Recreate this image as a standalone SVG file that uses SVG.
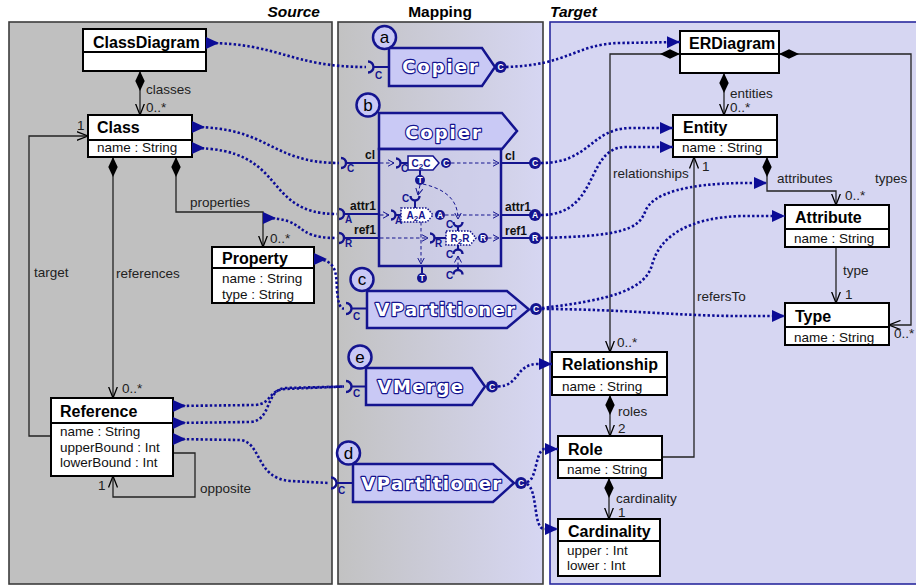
<svg xmlns="http://www.w3.org/2000/svg" width="916" height="585" viewBox="0 0 916 585">
<defs>
<linearGradient id="mapGrad" x1="0" y1="0" x2="1" y2="0">
<stop offset="0" stop-color="#c2c2c2"/><stop offset="1" stop-color="#d6d6f2"/>
</linearGradient>
<marker id="mapS" viewBox="0 0 13 12" refX="0" refY="6" markerWidth="13" markerHeight="12" markerUnits="userSpaceOnUse" orient="auto"><path d="M0,0 L13,6 L0,12 Z" fill="#0c0c96"/></marker>
<marker id="mapE" viewBox="0 0 13 12" refX="13" refY="6" markerWidth="13" markerHeight="12" markerUnits="userSpaceOnUse" orient="auto"><path d="M0,0 L13,6 L0,12 Z" fill="#0c0c96"/></marker>
<marker id="dia" viewBox="0 0 20 10" refX="0" refY="5" markerWidth="20" markerHeight="10" markerUnits="userSpaceOnUse" orient="auto"><path d="M0,5 L10,0.3 L20,5 L10,9.7 Z" fill="#000"/></marker>
<marker id="open" viewBox="0 0 12 10" refX="11.5" refY="5" markerWidth="12" markerHeight="10" markerUnits="userSpaceOnUse" orient="auto"><path d="M0,0.5 L11.5,5 L0,9.5" fill="none" stroke="#000" stroke-width="1.3"/></marker>
<marker id="dOpen" viewBox="0 0 7 8" refX="6.5" refY="4" markerWidth="7" markerHeight="8" markerUnits="userSpaceOnUse" orient="auto"><path d="M0,0.5 L6.5,4 L0,7.5" fill="none" stroke="#14148f" stroke-width="1"/></marker>
<style>
.uml{fill:#fff;stroke:#000;stroke-width:2}
.cn{font-family:"Liberation Sans",Arial,sans-serif;font-weight:bold;font-size:16px;fill:#000}
.at{font-family:"Liberation Sans",Arial,sans-serif;font-size:13.5px;fill:#111}
.lbl{font-family:"Liberation Sans",Arial,sans-serif;font-size:13.5px;fill:#222}
.assoc{fill:none;stroke:#222;stroke-width:1.3}
.map{fill:none;stroke:#0c0c96;stroke-width:2.6;stroke-dasharray:2.4 2.2}
.cbox{fill:#c9c9f5;stroke:#14148f;stroke-width:2.5;stroke-linejoin:miter}
.badge{fill:#c9c9f5;stroke:#14148f;stroke-width:2.5}
.bl{font-family:"Liberation Sans",Arial,sans-serif;font-size:17px;fill:#000;text-anchor:middle}
.ct{font-family:"DejaVu Sans",sans-serif;font-weight:bold;font-size:18px;fill:#fff;stroke:#14148f;stroke-width:2.4;paint-order:stroke;stroke-linejoin:round;text-anchor:middle}
.wire{fill:none;stroke:#14148f;stroke-width:2}
.sock{fill:none;stroke:#14148f;stroke-width:2.4}
.ball{fill:#14148f}
.bt{font-family:"Liberation Sans",Arial,sans-serif;font-weight:bold;font-size:8.5px;fill:#fff;text-anchor:middle}
.sub{font-family:"Liberation Sans",Arial,sans-serif;font-weight:bold;font-size:10px;fill:#14148f}
.port{font-family:"Liberation Sans",Arial,sans-serif;font-weight:bold;font-size:12px;fill:#111}
.dsh{fill:none;stroke:#14148f;stroke-width:1;stroke-dasharray:3.5 2.5}
.inner{fill:#fff;stroke:#14148f;stroke-width:1.5}
.innerDot{fill:#fff;stroke:#14148f;stroke-width:1.5;stroke-dasharray:1.6 1.4}
.it{font-family:"Liberation Sans",Arial,sans-serif;font-weight:bold;font-size:10px;fill:#14148f;text-anchor:middle}
.panelT{font-family:"Liberation Sans",Arial,sans-serif;font-weight:bold;font-size:15.5px;fill:#000}
</style>
</defs>

<!-- swimlane panels -->
<g id="panels">
<rect x="9" y="22" width="323" height="562" fill="#c0c0c0" stroke="#3c3c3c" stroke-width="1.6"/>
<rect x="338" y="22" width="205" height="562" fill="url(#mapGrad)" stroke="#3c3c3c" stroke-width="1.6"/>
<rect x="550" y="22" width="372" height="562" fill="#d6d6f2" stroke="#2a2a9e" stroke-width="1.6"/>
<text class="panelT" x="320" y="17" text-anchor="end" font-style="italic">Source</text>
<text class="panelT" x="440" y="17" text-anchor="middle">Mapping</text>
<text class="panelT" x="550" y="17" font-style="italic">Target</text>
</g>

<!-- associations between classes -->
<g id="associations">
<path class="assoc" marker-start="url(#dia)" marker-end="url(#open)" d="M140,71 L140,115"/>
<path class="assoc" marker-start="url(#dia)" marker-end="url(#open)" d="M113,157 L113,398"/>
<path class="assoc" marker-start="url(#dia)" marker-end="url(#open)" d="M176,157 L176,212 L263,212 L263,247"/>
<path class="assoc" marker-end="url(#open)" d="M51,436 L29,436 L29,136 L88,136"/>
<path class="assoc" marker-end="url(#open)" d="M173,453 L195,453 L195,497 L113,497 L113,476"/>
<path class="assoc" marker-start="url(#dia)" marker-end="url(#open)" d="M724,73 L724,115"/>
<path class="assoc" marker-start="url(#dia)" marker-end="url(#open)" d="M680,54 L610,54 L610,352"/>
<path class="assoc" marker-start="url(#dia)" marker-end="url(#open)" d="M779,54 L911,54 L911,325 L889,325"/>
<path class="assoc" marker-start="url(#dia)" marker-end="url(#open)" d="M767,157 L767,191 L836,191 L836,205"/>
<path class="assoc" marker-end="url(#open)" d="M836,247 L836,303"/>
<path class="assoc" marker-start="url(#dia)" marker-end="url(#open)" d="M610,395 L610,436"/>
<path class="assoc" marker-end="url(#open)" d="M662,457 L694,457 L694,157"/>
<path class="assoc" marker-start="url(#dia)" marker-end="url(#open)" d="M609,478 L609,519"/>
<text class="lbl" x="146" y="94">classes</text>
<text class="lbl" x="146" y="112">0..*</text>
<text class="lbl" x="77" y="130">1</text>
<text class="lbl" x="190" y="207">properties</text>
<text class="lbl" x="270" y="243">0..*</text>
<text class="lbl" x="34" y="277">target</text>
<text class="lbl" x="116" y="278">references</text>
<text class="lbl" x="122" y="393">0..*</text>
<text class="lbl" x="98" y="490">1</text>
<text class="lbl" x="200" y="493">opposite</text>
<text class="lbl" x="730" y="98">entities</text>
<text class="lbl" x="730" y="112">0..*</text>
<text class="lbl" x="613" y="178">relationships</text>
<text class="lbl" x="702" y="171">1</text>
<text class="lbl" x="777" y="183">attributes</text>
<text class="lbl" x="875" y="183">types</text>
<text class="lbl" x="845" y="200">0..*</text>
<text class="lbl" x="843" y="275">type</text>
<text class="lbl" x="845" y="299">1</text>
<text class="lbl" x="697" y="301">refersTo</text>
<text class="lbl" x="894" y="338">0..*</text>
<text class="lbl" x="617" y="347">0..*</text>
<text class="lbl" x="618" y="416">roles</text>
<text class="lbl" x="618" y="433">2</text>
<text class="lbl" x="616" y="503">cardinality</text>
<text class="lbl" x="618" y="517">1</text>
</g>

<!-- source metamodel -->
<g id="ClassDiagram">
<rect class="uml" x="83" y="29" width="123" height="42"/><line class="uml" x1="83" y1="52" x2="206" y2="52"/>
<text class="cn" x="93" y="47.5">ClassDiagram</text>
</g>
<g id="Class">
<rect class="uml" x="88" y="115" width="104" height="42"/><line class="uml" x1="88" y1="140" x2="192" y2="140"/>
<text class="cn" x="97" y="133">Class</text>
<text class="at" x="97" y="152">name : String</text>
</g>
<g id="Property">
<rect class="uml" x="212" y="247" width="102" height="56"/><line class="uml" x1="212" y1="268" x2="314" y2="268"/>
<text class="cn" x="222" y="264">Property</text>
<text class="at" x="222" y="283">name : String</text>
<text class="at" x="222" y="299">type : String</text>
</g>
<g id="Reference">
<rect class="uml" x="51" y="398" width="122" height="78"/><line class="uml" x1="51" y1="423" x2="173" y2="423"/>
<text class="cn" x="60" y="417">Reference</text>
<text class="at" x="60" y="436">name : String</text>
<text class="at" x="60" y="452">upperBound : Int</text>
<text class="at" x="60" y="467">lowerBound : Int</text>
</g>

<!-- target metamodel -->
<g id="ERDiagram">
<rect class="uml" x="680" y="31" width="99" height="42"/><line class="uml" x1="680" y1="54" x2="779" y2="54"/>
<text class="cn" x="689" y="49">ERDiagram</text>
</g>
<g id="Entity">
<rect class="uml" x="673" y="115" width="104" height="42"/><line class="uml" x1="673" y1="140" x2="777" y2="140"/>
<text class="cn" x="683" y="133">Entity</text>
<text class="at" x="682" y="152">name : String</text>
</g>
<g id="Attribute">
<rect class="uml" x="785" y="205" width="104" height="42"/><line class="uml" x1="785" y1="229" x2="889" y2="229"/>
<text class="cn" x="795" y="223">Attribute</text>
<text class="at" x="794" y="243">name : String</text>
</g>
<g id="Type">
<rect class="uml" x="785" y="303" width="104" height="42"/><line class="uml" x1="785" y1="327" x2="889" y2="327"/>
<text class="cn" x="795" y="322">Type</text>
<text class="at" x="794" y="342">name : String</text>
</g>
<g id="Relationship">
<rect class="uml" x="552" y="352" width="115" height="43"/><line class="uml" x1="552" y1="377" x2="667" y2="377"/>
<text class="cn" x="562" y="370">Relationship</text>
<text class="at" x="562" y="391">name : String</text>
</g>
<g id="Role">
<rect class="uml" x="558" y="436" width="104" height="42"/><line class="uml" x1="558" y1="460" x2="662" y2="460"/>
<text class="cn" x="568" y="455">Role</text>
<text class="at" x="567" y="474">name : String</text>
</g>
<g id="Cardinality">
<rect class="uml" x="558" y="519" width="102" height="57"/><line class="uml" x1="558" y1="541" x2="660" y2="541"/>
<text class="cn" x="568" y="537">Cardinality</text>
<text class="at" x="567" y="555">upper : Int</text>
<text class="at" x="567" y="570">lower : Int</text>
</g>

<!-- transformation components -->
<g id="comp-a">
<path class="cbox" d="M389,48 L482,48 L495,67 L482,86 L389,86 Z"/>
<text class="ct" x="441" y="73" letter-spacing="2">Copier</text>
<circle class="badge" cx="384.5" cy="37.5" r="11.5"/><text class="bl" x="384.5" y="43">a</text>
<path class="sock" d="M368,61.5 A5.5,5.5 0 0 1 368,72.5"/>
<line class="wire" x1="373.5" y1="67" x2="389" y2="67"/>
<text class="sub" x="375" y="79">C</text>
<circle class="ball" cx="500.5" cy="67" r="6"/><text class="bt" x="500.5" y="70">C</text>
</g>

<g id="comp-b">
<path class="cbox" d="M379,113 L502,113 L517,131 L502,149 L379,149 Z"/>
<rect x="379" y="149" width="122" height="117" fill="#cdcdf0" fill-opacity="0.55" stroke="#14148f" stroke-width="2.5"/>
<text class="ct" x="444" y="139" letter-spacing="2">Copier</text>
<circle class="badge" cx="368" cy="105" r="11.5"/><text class="bl" x="368" y="110.5">b</text>
<!-- external inputs -->
<path class="sock" d="M341,158 A5,5 0 0 1 341,168"/><line class="wire" x1="346" y1="163" x2="379" y2="163"/>
<text class="sub" x="347" y="172">C</text><text class="port" x="375" y="159" text-anchor="end">cl</text>
<path class="sock" d="M339,209 A5,5 0 0 1 339,219"/><line class="wire" x1="344" y1="214" x2="379" y2="214"/>
<text class="sub" x="345" y="223">A</text><text class="port" x="376" y="210" text-anchor="end">attr1</text>
<path class="sock" d="M339,233 A5,5 0 0 1 339,243"/><line class="wire" x1="344" y1="238" x2="379" y2="238"/>
<text class="sub" x="345" y="247">R</text><text class="port" x="376" y="234" text-anchor="end">ref1</text>
<!-- external outputs -->
<line class="wire" x1="501" y1="163" x2="530" y2="163"/><circle class="ball" cx="535" cy="163" r="6"/><text class="bt" x="535" y="166">C</text>
<text class="port" x="505" y="160">cl</text>
<line class="wire" x1="501" y1="215" x2="530" y2="215"/><circle class="ball" cx="535" cy="215" r="6"/><text class="bt" x="535" y="218">A</text>
<text class="port" x="505" y="211">attr1</text>
<line class="wire" x1="501" y1="238" x2="530" y2="238"/><circle class="ball" cx="535" cy="238" r="6"/><text class="bt" x="535" y="241">R</text>
<text class="port" x="505" y="235">ref1</text>
<!-- class copy -->
<path class="dsh" marker-end="url(#dOpen)" d="M380,163 L394,163"/>
<path class="sock" d="M396,158.5 A4.5,4.5 0 0 1 396,167.5"/><line class="wire" x1="400.5" y1="163" x2="408" y2="163" stroke-width="1.5"/>
<text class="sub" x="401" y="172" font-size="9">C</text>
<path class="inner" d="M408,156 L433,156 L439,163 L433,170 L408,170 Z"/>
<text class="it" x="421" y="167" font-size="9.5">C<tspan font-size="8" dy="2">2</tspan><tspan dy="-2">C</tspan></text>
<circle class="ball" cx="446" cy="163" r="5"/><text class="bt" x="446" y="166" font-size="7.5">C</text>
<path class="dsh" marker-end="url(#dOpen)" d="M451,163 L499,163"/>
<line class="wire" x1="420" y1="170" x2="420" y2="175" stroke-width="1.5"/>
<circle class="ball" cx="420" cy="180" r="5"/><text class="bt" x="420" y="183" font-size="7.5">T</text>
<!-- attribute copy -->
<path class="dsh" marker-end="url(#dOpen)" d="M380,215 L389,215"/>
<path class="sock" d="M391,210.5 A4.5,4.5 0 0 1 391,219.5"/><line class="wire" x1="395.5" y1="215" x2="401" y2="215" stroke-width="1.5"/>
<text class="sub" x="395" y="224" font-size="9">A</text>
<path class="innerDot" d="M401,208 L427,208 L433,215 L427,222 L401,222 Z"/>
<text class="it" x="416" y="219" font-size="9.5">A<tspan font-size="8" dy="2">2</tspan><tspan dy="-2">A</tspan></text>
<circle class="ball" cx="440" cy="215" r="5"/><text class="bt" x="440" y="218" font-size="7.5">A</text>
<path class="dsh" marker-end="url(#dOpen)" d="M445,215 L499,215"/>
<path class="sock" d="M410.5,196 A4.5,4.5 0 0 0 419.5,196"/><line class="wire" x1="415" y1="200.5" x2="415" y2="208" stroke-width="1.5"/>
<text class="sub" x="402" y="202" font-size="9">C</text>
<path class="dsh" marker-end="url(#dOpen)" d="M420,185 L418,195"/>
<path class="dsh" marker-end="url(#dOpen)" d="M423,184 C440,188 458,196 458,219"/>
<!-- reference copy -->
<path class="dsh" marker-end="url(#dOpen)" d="M380,238 L428,238"/>
<path class="sock" d="M430,233.5 A4.5,4.5 0 0 1 430,242.5"/><line class="wire" x1="434.5" y1="238" x2="446" y2="238" stroke-width="1.5"/>
<text class="sub" x="435" y="247" font-size="9">R</text>
<path class="innerDot" d="M446,231 L470,231 L476,238 L470,245 L446,245 Z"/>
<text class="it" x="460" y="242" font-size="9.5">R<tspan font-size="8" dy="2">2</tspan><tspan dy="-2">R</tspan></text>
<circle class="ball" cx="483" cy="238" r="5"/><text class="bt" x="483" y="241" font-size="7.5">R</text>
<path class="dsh" marker-end="url(#dOpen)" d="M488,238 L499,238"/>
<path class="sock" d="M453.5,222 A4.5,4.5 0 0 0 462.5,222"/><line class="wire" x1="458" y1="226.5" x2="458" y2="231" stroke-width="1.5"/>
<text class="sub" x="446" y="228" font-size="9">C</text>
<line class="wire" x1="458" y1="245" x2="458" y2="249" stroke-width="1.5"/>
<path class="sock" d="M453.5,254 A4.5,4.5 0 0 1 462.5,254"/>
<text class="sub" x="446" y="258" font-size="9">C</text>
<path class="dsh" marker-end="url(#dOpen)" d="M458,266 L458,256"/>
<!-- trace output -->
<path class="dsh" marker-end="url(#dOpen)" d="M421,222 L421,264"/>
<line class="wire" x1="422" y1="266" x2="422" y2="273" stroke-width="1.5"/>
<circle class="ball" cx="422" cy="278" r="5"/><text class="bt" x="422" y="281" font-size="7.5">T</text>
<line class="wire" x1="458" y1="266" x2="458" y2="270" stroke-width="1.5"/>
<path class="sock" d="M453.5,274.5 A4.5,4.5 0 0 1 462.5,274.5"/>
<text class="sub" x="446" y="279" font-size="9">C</text>
</g>

<g id="comp-c">
<path class="cbox" d="M367,291 L507,291 L529,309.5 L507,328 L367,328 Z"/>
<text class="ct" x="446" y="316" letter-spacing="1.5">VPartitioner</text>
<circle class="badge" cx="362" cy="279.5" r="11.5"/><text class="bl" x="362" y="285">c</text>
<path class="sock" d="M346,303 A5.5,5.5 0 0 1 346,314"/>
<line class="wire" x1="351.5" y1="308.5" x2="367" y2="308.5"/>
<text class="sub" x="353" y="320">C</text>
<circle class="ball" cx="536" cy="309" r="6"/><text class="bt" x="536" y="312">C</text>
</g>

<g id="comp-e">
<path class="cbox" d="M366,368 L472,368 L485,386.5 L472,405 L366,405 Z"/>
<text class="ct" x="421" y="393" letter-spacing="1.5">VMerge</text>
<circle class="badge" cx="360" cy="357" r="11.5"/><text class="bl" x="360" y="362.5">e</text>
<path class="sock" d="M346,381 A5.5,5.5 0 0 1 346,392"/>
<line class="wire" x1="351.5" y1="386.5" x2="366" y2="386.5"/>
<text class="sub" x="353" y="397">C</text>
<circle class="ball" cx="492" cy="386.5" r="6"/><text class="bt" x="492" y="389.5">C</text>
</g>

<g id="comp-d">
<path class="cbox" d="M353,464 L493,464 L514,483 L493,502 L353,502 Z"/>
<text class="ct" x="432" y="490" letter-spacing="1.5">VPartitioner</text>
<circle class="badge" cx="348.5" cy="453" r="11.5"/><text class="bl" x="348.5" y="458.5">d</text>
<path class="sock" d="M331,477.5 A5.5,5.5 0 0 1 331,488.5"/>
<line class="wire" x1="336.5" y1="483" x2="353" y2="483"/>
<text class="sub" x="338" y="494">C</text>
<circle class="ball" cx="521" cy="483" r="6"/><text class="bt" x="521" y="486">C</text>
</g>

<!-- model-to-model mappings -->
<g id="mappings">
<path class="map" marker-start="url(#mapS)" d="M206,43 C280,43 290,67 366,67"/>
<path class="map" marker-start="url(#mapS)" d="M192,127 C270,127 270,163 339,163"/>
<path class="map" marker-start="url(#mapS)" d="M192,148 C290,148 260,214 337,214"/>
<path class="map" marker-start="url(#mapS)" d="M263,218 C310,218 290,238 337,238"/>
<path class="map" marker-start="url(#mapS)" d="M314,259 C338,259 336,275 337,290 C338,303 340,308.5 344,308.5"/>
<path class="map" marker-start="url(#mapS)" d="M173,406 L255,405 C272,404 268,390 285,389 L344,386.5"/>
<path class="map" marker-start="url(#mapS)" d="M173,423 L250,422 C272,421 265,390 285,388 L344,386.5"/>
<path class="map" marker-start="url(#mapS)" d="M173,439 L240,440 C262,442 255,478 290,481 L329,483"/>
<path class="map" marker-end="url(#mapE)" d="M506,67 C570,65 575,44 620,43 L680,42"/>
<path class="map" marker-end="url(#mapE)" d="M541,163 C590,163 590,129 630,128 L673,128"/>
<path class="map" marker-end="url(#mapE)" d="M541,215 C600,215 585,148 625,147 L673,147"/>
<path class="map" marker-end="url(#mapE)" d="M541,238 C620,236 638,230 645,212 C652,192 690,184 740,183 L767,183"/>
<path class="map" marker-end="url(#mapE)" d="M542,308 C610,300 645,290 652,265 C660,235 690,218 740,216 L785,216"/>
<path class="map" marker-end="url(#mapE)" d="M542,309 C620,309 680,316 740,316 L785,316"/>
<path class="map" marker-end="url(#mapE)" d="M498,386.5 C520,386 515,364 538,364 L552,364"/>
<path class="map" marker-end="url(#mapE)" d="M527,482 C537,480 535,452 544,449 L558,449"/>
<path class="map" marker-end="url(#mapE)" d="M527,484 C538,490 533,528 544,529 L558,529"/>
</g>
</svg>
